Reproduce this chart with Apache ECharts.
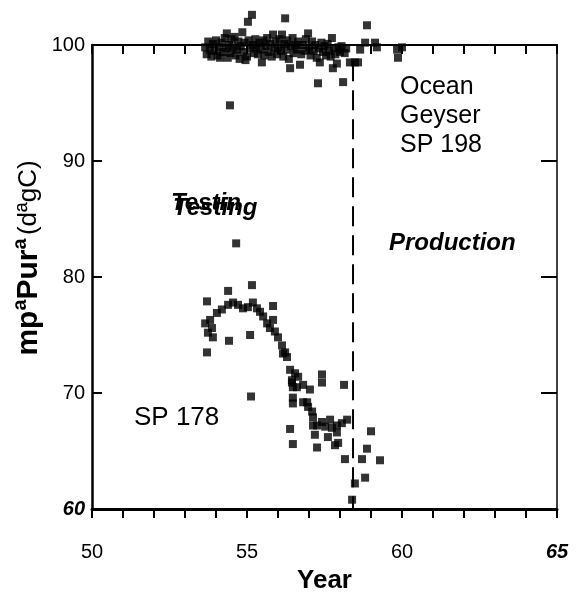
<!DOCTYPE html>
<html>
<head>
<meta charset="utf-8">
<script src="https://cdn.jsdelivr.net/npm/echarts@6/dist/echarts.min.js"></script>
<style>html,body{margin:0;padding:0;background:#fff;}#c{width:581px;height:593px;}</style>
</head>
<body>
<div id="c"></div>
<script>
// Ocean Geyser SP 198 (year, temperature)
var sp198 = [
[53.65,99.8],[53.7,99.2],[53.75,100.3],[53.8,99.6],[53.85,99.0],[53.9,100.1],[53.95,99.5],[54.0,100.4],[54.05,99.1],[54.1,99.8],
[54.13,98.9],[54.18,100.2],[54.22,99.4],[54.28,100.6],[54.33,99.7],[54.35,101.0],[54.38,98.9],[54.42,100.0],[54.47,99.3],[54.5,100.5],
[54.55,99.8],[54.6,100.7],[54.63,99.1],[54.68,99.6],[54.72,100.3],[54.76,98.8],[54.8,99.9],[54.85,101.1],[54.88,99.4],[54.92,100.2],
[54.95,98.7],[55.0,99.0],[55.03,102.0],[55.05,100.4],[55.1,99.7],[55.16,102.6],[55.19,100.0],[55.22,99.3],[55.27,100.5],[55.3,99.8],
[55.35,99.2],[55.4,100.2],[55.45,99.6],[55.48,98.5],[55.52,100.4],[55.56,99.1],[55.6,99.9],[55.65,100.6],[55.7,99.4],[55.75,100.1],
[55.8,99.0],[55.84,100.9],[55.88,99.7],[55.92,100.3],[55.97,99.2],[56.0,99.8],[56.05,100.5],[56.1,99.5],[56.13,100.9],[56.17,99.0],
[56.2,100.1],[56.23,102.3],[56.27,99.6],[56.3,100.4],[56.35,98.8],[56.39,98.0],[56.42,99.9],[56.47,100.6],[56.5,99.3],[56.55,100.0],
[56.6,99.6],[56.65,100.3],[56.71,98.3],[56.75,99.2],[56.8,100.0],[56.85,99.5],[56.9,100.5],[56.97,101.0],[57.0,99.8],[57.05,99.1],
[57.1,100.3],[57.15,99.5],[57.2,100.0],[57.25,98.9],[57.29,96.7],[57.32,99.7],[57.35,98.5],[57.4,100.2],[57.45,99.4],[57.5,99.9],
[57.55,99.1],[57.6,100.1],[57.65,99.5],[57.7,99.0],[57.74,100.6],[57.77,98.0],[57.8,99.7],[57.85,99.2],[57.9,98.4],[57.95,99.8],
[58.0,99.4],[58.05,99.9],[58.1,96.8],[58.15,99.3],[58.2,99.7],[58.32,98.5],[58.48,98.5],[58.58,98.5],[58.65,99.6],[58.81,100.2],
[58.87,101.7],[59.13,100.2],[59.19,99.8],[59.84,99.6],[59.87,98.9],[60.0,99.8],[54.45,94.8],[54.65,82.9]
];
// SP 178 (year, temperature)
var sp178 = [
[53.71,77.9],[54.39,78.8],[55.16,79.3],[55.84,77.5],[53.71,73.5],[54.42,74.5],[55.1,75.0],[55.13,69.7],
[53.65,76.0],[53.74,75.2],[53.81,76.3],[53.87,75.6],[53.9,74.8],[54.03,76.9],[54.19,77.2],[54.39,77.6],[54.55,77.8],[54.71,77.6],
[54.87,77.3],[55.03,77.4],[55.19,77.8],[55.32,77.3],[55.42,77.0],[55.52,76.6],[55.65,76.0],[55.74,75.6],[55.84,76.3],[55.9,75.3],
[56.0,74.8],[56.13,74.1],[56.23,73.5],[56.29,73.1],[56.39,72.0],[56.45,71.1],[56.48,70.5],[56.48,69.6],
[56.16,73.4],[56.55,71.7],[56.65,71.4],[56.45,70.9],[56.61,70.5],[56.81,70.7],[57.03,70.3],[57.42,71.6],[57.42,70.9],[58.13,70.7],
[56.48,69.1],[56.81,69.2],[56.94,69.2],[56.97,68.8],[57.1,68.4],[57.13,67.9],[57.13,67.2],[57.26,67.2],[57.42,67.5],[57.52,67.1],
[57.68,67.7],[57.74,67.0],[57.9,67.2],[58.06,67.4],[58.23,67.7],[57.19,66.4],[57.61,66.2],[57.9,66.6],[57.94,65.7],
[56.39,66.9],[56.48,65.6],[57.26,65.3],[57.84,65.5],[58.16,64.3],[58.71,64.3],[58.87,65.2],[59.0,66.7],[59.29,64.2],
[58.81,62.7],[58.48,62.2],[58.39,60.8]
];
// boundary between testing and production
var boundaryYear = 58.42;
var boundaryRange = [98.6, 60];
var xLabels = [50, 55, 60, 65];
var yLabels = [60, 70, 80, 90, 100];

var FONT = '"Liberation Sans", Arial, Helvetica, sans-serif';
var chart = echarts.init(document.getElementById('c'));
var axisCommon = {type:'value', splitLine:{show:false}};
chart.setOption({
  backgroundColor:'#fff',
  animation:false,
  grid:{left:92, top:45, right:24, bottom:84, containLabel:false, outerBoundsMode:'none'},
  xAxis:[
    Object.assign({}, axisCommon, {
      position:'bottom', min:50, max:65, interval:1,
      name:'Year', nameLocation:'middle', nameGap:59,
      nameTextStyle:{fontSize:26, fontWeight:'bold', color:'#000', fontFamily:FONT},
      axisLine:{show:true, onZero:false, lineStyle:{color:'#000', width:3}},
      axisTick:{show:true, inside:false, length:9, lineStyle:{color:'#000', width:2}},
      axisLabel:{margin:33, fontSize:20, color:'#000', fontFamily:FONT, showMaxLabel:true, showMinLabel:true,
        formatter:function(v){ if(xLabels.indexOf(v)<0) return ''; return v===65 ? '{b|65}' : String(v); },
        rich:{b:{fontSize:20, fontStyle:'italic', fontWeight:'bold', color:'#000', fontFamily:FONT}}}
    }),
    Object.assign({}, axisCommon, {
      position:'top', min:50, max:65, interval:1,
      axisLine:{show:true, onZero:false, lineStyle:{color:'#000', width:2}},
      axisTick:{show:true, inside:true, length:9, lineStyle:{color:'#000', width:2}},
      axisLabel:{show:false}
    })
  ],
  yAxis:[
    Object.assign({}, axisCommon, {
      position:'left', min:60, max:100, interval:10,
      axisLine:{show:true, onZero:false, lineStyle:{color:'#000', width:2.5}},
      axisTick:{show:true, inside:true, length:10, lineStyle:{color:'#000', width:2}},
      axisLabel:{margin:7, fontSize:20, color:'#000', fontFamily:FONT,
        formatter:function(v){ if(yLabels.indexOf(v)<0) return ''; return v===60 ? '{b|60}' : String(v); },
        rich:{b:{fontSize:20, fontStyle:'italic', fontWeight:'bold', color:'#000', fontFamily:FONT}}}
    }),
    Object.assign({}, axisCommon, {
      position:'right', min:60, max:100, interval:10,
      axisLine:{show:true, onZero:false, lineStyle:{color:'#000', width:1.5}},
      axisTick:{show:true, inside:true, length:16, lineStyle:{color:'#000', width:2}},
      axisLabel:{show:false}
    })
  ],
  series:[
    {type:'scatter', data:sp198, symbol:'rect', symbolSize:8, clip:false, itemStyle:{color:'#000'}},
    {type:'scatter', data:sp178, symbol:'rect', symbolSize:8, clip:false, itemStyle:{color:'#000'}},
    {type:'line', data:[[boundaryYear, boundaryRange[0]],[boundaryYear, boundaryRange[1]]], symbol:'none',
      lineStyle:{color:'#000', width:2, type:[20,9]}}
  ],
  graphic:[
    {type:'text', x:400, y:87, style:{text:'Ocean', font:'25px '+FONT, fill:'#000', verticalAlign:'middle'}},
    {type:'text', x:400, y:116, style:{text:'Geyser', font:'25px '+FONT, fill:'#000', verticalAlign:'middle'}},
    {type:'text', x:400, y:145, style:{text:'SP 198', font:'25px '+FONT, fill:'#000', verticalAlign:'middle'}},
    {type:'text', x:389, y:243, style:{text:'Production', font:'italic bold 24px '+FONT, fill:'#000', verticalAlign:'middle'}},
    {type:'text', x:171, y:203, style:{text:'Testin', font:'italic bold 24px '+FONT, fill:'#000', verticalAlign:'middle'}},
    {type:'text', x:173, y:208, style:{text:'Testing', font:'italic bold 24px '+FONT, fill:'#000', verticalAlign:'middle'}},
    {type:'text', x:134, y:418, style:{text:'SP 178', font:'26px '+FONT, fill:'#000', verticalAlign:'middle'}},
    {type:'text', x:29, y:258, rotation:Math.PI/2,
      style:{text:'{a|mpªPurª} {b|(dªgC)}', align:'center', verticalAlign:'middle', fill:'#000',
        rich:{a:{fontSize:30, fontWeight:'bold', fontFamily:FONT, fill:'#000'},
              b:{fontSize:26, fontFamily:FONT, fill:'#000'}}}}
  ]
});
</script>
</body>
</html>
